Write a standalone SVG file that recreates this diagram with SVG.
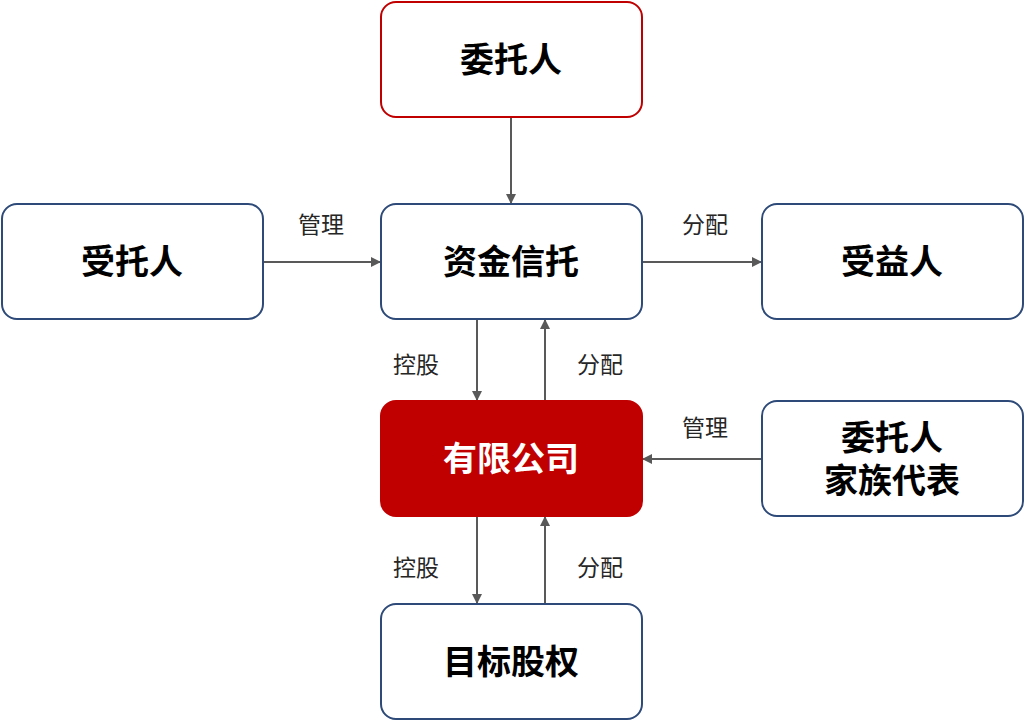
<svg xmlns="http://www.w3.org/2000/svg" width="1025" height="722" viewBox="0 0 1025 722">
<defs>
<marker id="ah" viewBox="0 0 10 10" refX="9" refY="5" markerWidth="11" markerHeight="10" markerUnits="userSpaceOnUse" orient="auto"><path d="M0,0 L10,5 L0,10 Z" fill="#595959"/></marker>
<style>
.n{fill:#fff;stroke:#2E4A78;stroke-width:2}
.t{font-family:"Noto Sans CJK SC",sans-serif;font-weight:bold;font-size:34px;fill:#000;text-anchor:middle}
.l{font-family:"Noto Sans CJK SC",sans-serif;font-size:23px;fill:#262626;text-anchor:middle}
.c{stroke:#595959;stroke-width:2;fill:none;marker-end:url(#ah)}
</style>
</defs>
<rect width="1025" height="722" fill="#fff"/>
<g id="connectors">
<line class="c" x1="511" y1="117" x2="511" y2="203"/>
<line class="c" x1="263" y1="262" x2="380" y2="262"/>
<line class="c" x1="642" y1="262" x2="761" y2="262"/>
<line class="c" x1="477" y1="319" x2="477" y2="400"/>
<line class="c" x1="545" y1="401" x2="545" y2="320"/>
<line class="c" x1="762" y1="459" x2="643" y2="459"/>
<line class="c" x1="477" y1="516" x2="477" y2="603"/>
<line class="c" x1="545" y1="604" x2="545" y2="517"/>
<text class="l" x="321" y="233">管理</text>
<text class="l" x="705" y="233">分配</text>
<text class="l" x="416" y="373">控股</text>
<text class="l" x="600" y="373">分配</text>
<text class="l" x="705" y="436">管理</text>
<text class="l" x="416" y="576">控股</text>
<text class="l" x="600" y="576">分配</text>
</g>
<g id="n1"><rect class="n" x="381" y="2" width="261" height="115" rx="15" style="stroke:#C00000"/><text class="t" x="511" y="72">委托人</text></g>
<g id="n2"><rect class="n" x="2" y="204" width="261" height="115" rx="15"/><text class="t" x="132" y="274">受托人</text></g>
<g id="n3"><rect class="n" x="381" y="204" width="261" height="115" rx="15"/><text class="t" x="511" y="274">资金信托</text></g>
<g id="n4"><rect class="n" x="762" y="204" width="261" height="115" rx="15"/><text class="t" x="892" y="274">受益人</text></g>
<g id="n5"><rect x="381" y="401" width="261" height="115" rx="15" fill="#C00000" stroke="#C00000" stroke-width="2"/><text class="t" x="511" y="471" style="fill:#fff">有限公司</text></g>
<g id="n6"><rect class="n" x="762" y="401" width="261" height="115" rx="15"/><text class="t" x="892" y="450">委托人</text><text class="t" x="892" y="493">家族代表</text></g>
<g id="n7"><rect class="n" x="381" y="604" width="261" height="115" rx="15"/><text class="t" x="511" y="674">目标股权</text></g>
</svg>
